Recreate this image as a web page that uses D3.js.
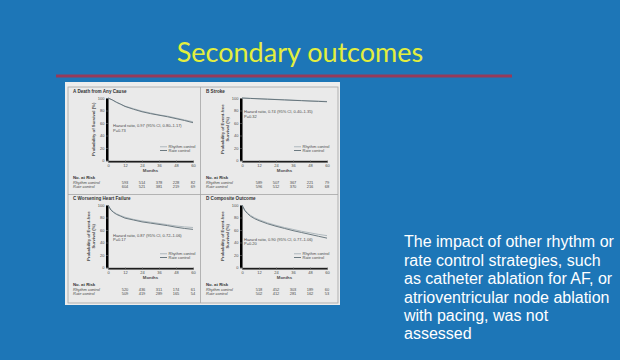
<!DOCTYPE html>
<html><head><meta charset="utf-8">
<script src="https://cdn.jsdelivr.net/npm/d3@7"></script>
<style>html,body{margin:0;padding:0;background:#1d76b7;}svg{display:block;}</style>
</head><body>
<svg id="c" width="620" height="360"></svg>
<script>
// ---- data ----
const slideTitle = "Secondary outcomes";
const bodyLines = ["The impact of other rhythm or","rate control strategies, such","as catheter ablation for AF, or","atrioventricular node ablation","with pacing, was not","assessed"];
const panelLetters = ["A","B","C","D"];
const panelTitles = ["Death from Any Cause","Stroke","Worsening Heart Failure","Composite Outcome"];
const yLabels = [["Probability of Survival (%)"],["Probability of Event-free","Survival (%)"],["Probability of Event-free","Survival (%)"],["Probability of Event-free","Survival (%)"]];
const hazardLines = [
  ["Hazard ratio, 0.97 (95% CI, 0.80\u20131.17)","P=0.73"],
  ["Hazard ratio, 0.74 (95% CI, 0.40\u20131.35)","P=0.32"],
  ["Hazard ratio, 0.87 (95% CI, 0.72\u20131.06)","P=0.17"],
  ["Hazard ratio, 0.90 (95% CI, 0.77\u20131.06)","P=0.20"]
];
const monthTicks = [0,12,24,36,48,60];
const pctTicks = [0,20,40,60,80,100];
const riskMonths = [12,24,36,48,60];
const seriesNames = ["Rhythm control","Rate control"];
const riskRhythm = [[593,514,378,228,82],[589,507,367,221,79],[520,436,311,174,61],[518,452,303,189,60]];
const riskRate   = [[604,521,381,219,69],[596,512,370,216,68],[509,419,289,165,54],[502,412,281,162,53]];
const curveMonthsA = [0,3,6,9,12,18,24,30,36,42,48,54,60];
const deathRhythm  = [100,97,93.5,90,87,83,79,76,73,71,68,65,62];
const deathRate    = [100,97,93,90,86.5,82,78,75,72.5,70,67,64,60.5];
const curveMonthsB = [0,6,12,18,24,30,36,42,48,54,60];
const strokeRhythm = [100,99.4,98.9,98.3,97.8,97.2,96.6,96,95.5,95,94.5];
const strokeRate   = [100,99.3,98.7,98.1,97.5,96.9,96.3,95.7,95.1,94.6,94];
const curveMonthsC = [0,2,4,6,9,12,18,24,30,36,42,48,54,60];
const hfRhythm     = [100,93,89,86,83,80.5,77,74.5,72.5,70.5,68.5,66.5,65,64];
const hfRate       = [100,92,88,85,82,79,76,73,71,69,67,64.5,62.5,61];
const compRhythm   = [100,92,87,83.5,79.5,76.5,71.5,67.5,64,61,58,55.5,53,51];
const compRate     = [100,91,86,82,78,75,70,66,62.5,59,56,53,50,47];
const curveMonths = [curveMonthsA, curveMonthsB, curveMonthsC, curveMonthsC];
const curvesRhythm = [deathRhythm, strokeRhythm, hfRhythm, compRhythm];
const curvesRate = [deathRate, strokeRate, hfRate, compRate];

// ---- drawing ----
const svg = d3.select("#c");
svg.append("rect").attr("width",620).attr("height",360).attr("fill","#1d76b7");

svg.append("text").attr("x",300).attr("y",62).attr("text-anchor","middle")
  .attr("font-family","Lato, 'Open Sans', sans-serif").attr("font-size",27)
  .attr("fill","#e3ee3e").text(slideTitle);
svg.append("line").attr("x1",56).attr("x2",512).attr("y1",76).attr("y2",76)
  .attr("stroke","#953a5a").attr("stroke-width",3);

const bt = svg.append("text").attr("font-family","'Liberation Sans', Arial, sans-serif")
  .attr("font-size",16).attr("fill","#ffffff");
bodyLines.forEach((l,i)=>bt.append("tspan").attr("x",404).attr("y",247.3+i*18.4).text(l));

// card
svg.append("rect").attr("x",65).attr("y",82).attr("width",275).attr("height",223).attr("fill","#ededed");
svg.append("rect").attr("x",68).attr("y",87).attr("width",270).attr("height",216)
  .attr("fill","#eaeaea").attr("stroke","#a4a4a4").attr("stroke-width",0.8);
svg.append("line").attr("x1",200.5).attr("x2",200.5).attr("y1",87).attr("y2",303).attr("stroke","#a4a4a4").attr("stroke-width",0.8);
svg.append("line").attr("x1",68).attr("x2",338).attr("y1",194.5).attr("y2",194.5).attr("stroke","#a4a4a4").attr("stroke-width",0.8);

const panelPos = [[68,87],[201,87],[68,194],[201,194]];
const txt = "#4a4a4a";
const ff = "'Liberation Sans', Arial, sans-serif";
const rhythmColor = "#a8b3b9", rateColor = "#5d6d75";

panelLetters.forEach((L,i)=>{
  const [px,py] = panelPos[i];
  const g = svg.append("g");
  const x0 = px + (i%2===0 ? 40 : 41), w = 85;
  const yTop = py + 11, h = 62.5;
  const x = d3.scaleLinear().domain([0,60]).range([x0,x0+w]);
  const y = d3.scaleLinear().domain([0,100]).range([yTop+h,yTop]);

  g.append("text").attr("x",px+5).attr("y",py+6).attr("font-family",ff).attr("font-size",4.6)
    .attr("font-weight","bold").attr("fill","#333")
    .text(L+"  "+panelTitles[i]);

  const xa = g.append("g").attr("transform",`translate(0,${yTop+h})`)
    .call(d3.axisBottom(x).tickValues(monthTicks).tickSize(2).tickPadding(1.5));
  const ya = g.append("g").attr("transform",`translate(${x0},0)`)
    .call(d3.axisLeft(y).tickValues(pctTicks).tickSize(2).tickPadding(1.5));
  [xa,ya].forEach(a=>{
    a.attr("font-family",ff).attr("font-size",4).attr("fill",null);
    a.selectAll("path,line").attr("stroke","#666").attr("stroke-width",0.6);
    a.selectAll("text").attr("fill",txt);
  });

  g.append("text").attr("x",x0+w/2).attr("y",yTop+h+11.5).attr("text-anchor","middle")
    .attr("font-family",ff).attr("font-size",4.3).attr("font-weight","bold").attr("fill",txt).text("Months");

  const yl = yLabels[i];
  yl.forEach((s,k)=>{
    const lx = x0 - 13 - (yl.length-1-k)*5;
    g.append("text").attr("transform",`translate(${lx},${yTop+h/2}) rotate(-90)`)
      .attr("text-anchor","middle").attr("font-family",ff).attr("font-size",4.3)
      .attr("font-weight","bold").attr("fill",txt).text(s);
  });

  const line = d3.line().x((d,j)=>x(curveMonths[i][j])).y(d=>y(d)).curve(d3.curveLinear);
  g.append("path").datum(curvesRhythm[i]).attr("d",line).attr("fill","none").attr("stroke",rhythmColor).attr("stroke-width",0.9);
  g.append("path").datum(curvesRate[i]).attr("d",line).attr("fill","none").attr("stroke",rateColor).attr("stroke-width",0.9);

  // hazard
  const hx = x0 + (i%2===0 ? 5 : 2);
  const hy = [56,78,52,45][i];
  hazardLines[i].forEach((s,k)=>{
    g.append("text").attr("x",hx).attr("y",y(hy)+1.5+k*4.5).attr("font-family",ff).attr("font-size",4)
      .attr("fill",txt).text(s);
  });

  // legend
  [[22,rhythmColor],[16,rateColor]].forEach(([v,c],k)=>{
    g.append("line").attr("x1",x0+52).attr("x2",x0+59).attr("y1",y(v)).attr("y2",y(v))
      .attr("stroke",c).attr("stroke-width",0.9);
    g.append("text").attr("x",x0+60.5).attr("y",y(v)+1.4).attr("font-family",ff).attr("font-size",4)
      .attr("fill",txt).text(seriesNames[k]);
  });

  // risk table
  const base = yTop + h;
  g.append("text").attr("x",px+5).attr("y",base+18.6).attr("font-family",ff).attr("font-size",4.3)
    .attr("font-weight","bold").attr("fill","#333").text("No. at Risk");
  [riskRhythm[i],riskRate[i]].forEach((arr,k)=>{
    const ry = base + 23 + k*4.5;
    g.append("text").attr("x",px+5).attr("y",ry).attr("font-family",ff).attr("font-size",4)
      .attr("font-style","italic").attr("fill",txt).text(seriesNames[k]);
    arr.forEach((n,j)=>{
      g.append("text").attr("x",x(riskMonths[j])).attr("y",ry).attr("text-anchor","middle")
        .attr("font-family",ff).attr("font-size",4).attr("fill",txt).text(n);
    });
  });
});
</script>
</body></html>
